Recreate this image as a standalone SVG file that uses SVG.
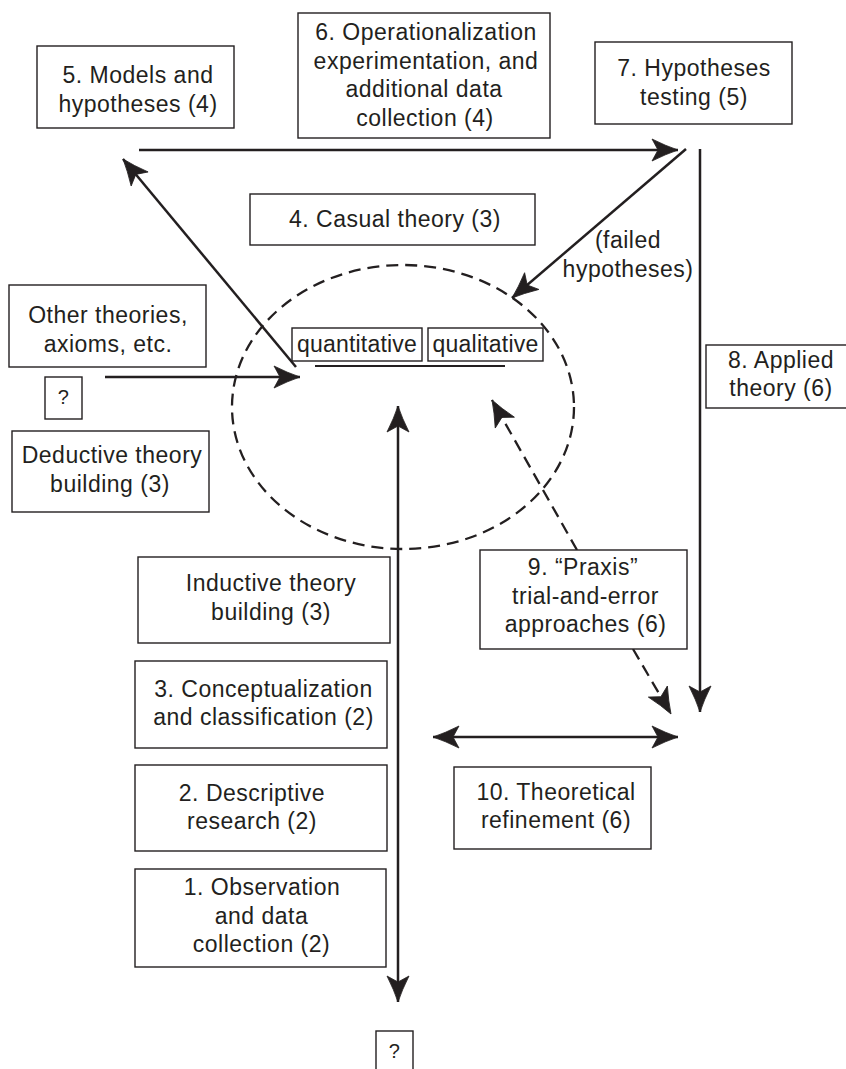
<svg xmlns="http://www.w3.org/2000/svg" width="846" height="1069" viewBox="0 0 846 1069">
<style>
  .box { fill: #ffffff; stroke: #231f20; stroke-width: 1.4; }
  .t { font-family: "Liberation Sans", Arial, Helvetica, sans-serif; font-size: 23px; fill: #231f20; text-anchor: middle; letter-spacing: 0.5px; }
  .s { letter-spacing: 0.2px; }
  .line { fill: none; stroke: #231f20; stroke-width: 2.5; }
  .dash { fill: none; stroke: #231f20; stroke-width: 2.3; stroke-dasharray: 12 7; }
</style>
<defs>
  <marker id="ah" markerUnits="userSpaceOnUse" markerWidth="30" markerHeight="24" refX="26" refY="11" orient="auto-start-reverse" viewBox="0 0 30 24" overflow="visible">
    <path d="M0,0 Q14,7 26,11 Q14,15 0,22 L6,11 Z" fill="#231f20" stroke="#231f20" stroke-width="0.8" stroke-linejoin="miter"/>
  </marker>
</defs>
<rect width="846" height="1069" fill="#ffffff"/>

<g id="connectors">
  <ellipse cx="403" cy="407" rx="171" ry="142" class="dash"/>
  <line x1="139" y1="150" x2="678" y2="150" class="line" marker-end="url(#ah)"/>
  <line x1="296" y1="367" x2="123" y2="159" class="line" marker-end="url(#ah)"/>
  <line x1="686" y1="149" x2="512" y2="298" class="line" marker-end="url(#ah)"/>
  <line x1="700" y1="149" x2="700" y2="712" class="line" marker-end="url(#ah)"/>
  <line x1="105" y1="377" x2="300" y2="377" class="line" marker-end="url(#ah)"/>
  <line x1="398" y1="406" x2="398" y2="1002" class="line" marker-start="url(#ah)" marker-end="url(#ah)"/>
  <line x1="577" y1="550" x2="492" y2="400" class="dash" marker-end="url(#ah)"/>
  <line x1="633" y1="649" x2="671" y2="714" class="dash" marker-end="url(#ah)"/>
  <line x1="433" y1="737" x2="678" y2="737" class="line" marker-start="url(#ah)" marker-end="url(#ah)"/>
  <line x1="315" y1="366" x2="505" y2="366" class="line" style="stroke-width:1.8"/>
  <text x="628" y="248" class="t">(failed</text>
  <text x="628" y="277" class="t">hypotheses)</text>
</g>

<g id="n5">
  <rect x="37" y="46" width="197" height="82" class="box"/>
  <text x="138" y="83" class="t">5. Models and</text>
  <text x="138" y="112" class="t">hypotheses (4)</text>
</g>
<g id="n6">
  <rect x="298" y="13" width="252" height="125" class="box"/>
  <text x="426" y="40" class="t">6. Operationalization</text>
  <text x="426" y="68.5" class="t">experimentation, and</text>
  <text x="424" y="97" class="t">additional data</text>
  <text x="425" y="125.5" class="t">collection (4)</text>
</g>
<g id="n7">
  <rect x="595" y="42" width="197" height="82" class="box"/>
  <text x="694" y="76" class="t">7. Hypotheses</text>
  <text x="694" y="105" class="t">testing (5)</text>
</g>
<g id="n4">
  <rect x="250" y="194" width="285" height="51" class="box"/>
  <text x="395" y="227" class="t">4. Casual theory (3)</text>
</g>
<g id="n8">
  <rect x="706" y="345" width="145" height="63" class="box"/>
  <text x="781" y="368" class="t">8. Applied</text>
  <text x="781" y="396" class="t">theory (6)</text>
</g>
<g id="other">
  <rect x="9" y="285" width="197" height="82" class="box"/>
  <text x="108" y="323" class="t">Other theories,</text>
  <text x="108" y="352" class="t">axioms, etc.</text>
</g>
<g id="q1">
  <rect x="45" y="377" width="37" height="42" class="box"/>
  <text x="63.5" y="404" class="t s" style="font-size:20px">?</text>
</g>
<g id="deductive">
  <rect x="12" y="431" width="197" height="81" class="box"/>
  <text x="112" y="463" class="t">Deductive theory</text>
  <text x="110" y="492" class="t">building (3)</text>
</g>
<g id="quant">
  <rect x="292" y="328" width="130" height="33" class="box"/>
  <text x="357" y="352" class="t s">quantitative</text>
</g>
<g id="qual">
  <rect x="428" y="328" width="115" height="33" class="box"/>
  <text x="485.5" y="352" class="t s">qualitative</text>
</g>
<g id="n9">
  <rect x="480" y="550" width="207" height="99" class="box"/>
  <text x="583" y="575" class="t">9. “Praxis”</text>
  <text x="585.5" y="604" class="t">trial-and-error</text>
  <text x="585.5" y="632" class="t">approaches (6)</text>
</g>
<g id="inductive">
  <rect x="138" y="557" width="252" height="86" class="box"/>
  <text x="271" y="591" class="t">Inductive theory</text>
  <text x="271" y="620" class="t">building (3)</text>
</g>
<g id="n3">
  <rect x="135" y="661" width="252" height="87" class="box"/>
  <text x="263.5" y="697" class="t">3. Conceptualization</text>
  <text x="263.5" y="725" class="t">and classification (2)</text>
</g>
<g id="n10">
  <rect x="454" y="767" width="197" height="82" class="box"/>
  <text x="556" y="800" class="t">10. Theoretical</text>
  <text x="556" y="828" class="t">refinement (6)</text>
</g>
<g id="n2">
  <rect x="135" y="765" width="252" height="86" class="box"/>
  <text x="252" y="801" class="t">2. Descriptive</text>
  <text x="252" y="829" class="t">research (2)</text>
</g>
<g id="n1">
  <rect x="135" y="869" width="251" height="98" class="box"/>
  <text x="262" y="895" class="t">1. Observation</text>
  <text x="261.5" y="923.5" class="t">and data</text>
  <text x="261.5" y="952" class="t">collection (2)</text>
</g>
<g id="q2">
  <rect x="376" y="1031" width="37" height="45" class="box"/>
  <text x="394.5" y="1058" class="t s" style="font-size:20px">?</text>
</g>
</svg>
